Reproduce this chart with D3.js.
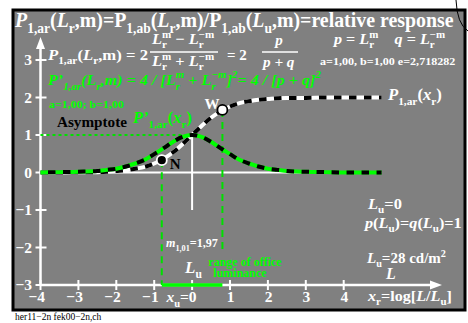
<!DOCTYPE html>
<html>
<head>
<meta charset="utf-8">
<script src="https://cdn.jsdelivr.net/npm/d3@7"></script>
<style>
  html, body { margin: 0; padding: 0; background: #fff; }
  svg { display: block; }
  text { font-family: "Liberation Serif", "DejaVu Serif", serif; font-weight: bold; }
</style>
</head>
<body>
<div id="chart"></div>
<script>
// values
var xValues = [-4, -3.5, -3, -2.5, -2.25, -2, -1.75, -1.5, -1.25, -1, -0.75, -0.5, -0.25, 0,
               0.25, 0.5, 0.75, 1, 1.25, 1.5, 1.75, 2, 2.25, 2.5, 3, 3.5, 4, 4.5, 5];
var responseValues = [0, 0, 0.01, 0.01, 0.02, 0.04, 0.06, 0.1, 0.15, 0.24, 0.37, 0.54, 0.76, 1,
                      1.24, 1.46, 1.63, 1.76, 1.85, 1.9, 1.94, 1.96, 1.98, 1.99, 1.99, 2, 2, 2, 2];
var slopeValues = [0, 0.01, 0.02, 0.04, 0.07, 0.1, 0.16, 0.24, 0.34, 0.49, 0.65, 0.82, 0.95, 1,
                   0.95, 0.82, 0.65, 0.49, 0.34, 0.24, 0.16, 0.1, 0.07, 0.04, 0.02, 0.01, 0, 0, 0];
var markerX = [-0.8, 0.8];
var markerY = [0.33, 1.67];
var markerNames = ['N', 'W'];
var xTicks = [-4, -3, -2, -1, 0, 1, 2, 3, 4];
var xTickLabels = ['\u22124', '\u22123', '\u22122', '\u22121', '|x|_{u}=0', '1', '2', '3', '4'];
var yTicks = [-3, -2, -1, 0, 1, 2, 3];
var yTickLabels = ['\u22123', '\u22122', '\u22121', '0', '1', '2', '3'];
var officeRange = [-0.8, 0.8];

var W = 468, H = 323;
var svg = d3.select('#chart').append('svg').attr('width', W).attr('height', H);

var x = d3.scaleLinear().domain([-4, 4]).range([40.5, 343.7]);
var y = d3.scaleLinear().domain([-3, 3]).range([285, 60]);

/**
 * text with |italic| and _{sub} ^{sup} markup
 */
function rich(g, px, py, str, size, fill, fitW, anchor) {
    var t = g.append('text').attr('x', px).attr('y', py)
        .attr('font-size', size).attr('fill', fill);
    if (anchor) t.attr('text-anchor', anchor);
    var shift = 0, ital = false, i = 0, buf = '', prev = null, prevSub = false;
    function flush(kind) {
        if (!buf.length) return;
        var target = kind === 'sub' ? size * 0.3 : kind === 'sup' ? -size * 0.42 : 0;
        var ts = t.append('tspan').text(buf).attr('dy', target - shift);
        shift = target;
        ts.attr('font-size', kind ? size * 0.68 : size);
        if (ital) ts.attr('font-style', 'italic');
        if (kind === 'sup' && prevSub && prev) {
            ts.attr('dx', -prev.node().getComputedTextLength());
        }
        prevSub = kind === 'sub';
        prev = ts;
        buf = '';
    }
    while (i < str.length) {
        var c = str[i];
        if (c === '|') { flush(null); ital = !ital; i++; continue; }
        if ((c === '_' || c === '^') && str[i + 1] === '{') {
            flush(null);
            var end = str.indexOf('}', i);
            var inner = str.slice(i + 2, end);
            var kind = c === '_' ? 'sub' : 'sup';
            inner.split('|').forEach(function (piece, k) {
                if (k > 0) ital = !ital;
                buf = piece; flush(kind);
            });
            i = end + 1;
            continue;
        }
        buf += c; i++;
        if (prevSub && c !== ' ') prevSub = false;
    }
    flush(null);
    if (fitW) {
        var bw = t.node().getBBox().width;
        t.attr('transform', 'translate(' + px + ',0) scale(' + (fitW / bw) + ',1) translate(' + (-px) + ',0)');
    }
    return t;
}

// frame
svg.append('rect').attr('x', 13).attr('y', 10).attr('width', 452).attr('height', 300)
    .attr('fill', '#808080').attr('stroke', '#000').attr('stroke-width', 3);

// arc top right, outside the frame
svg.append('path').attr('d', 'M456,0 Q457,24 468,31')
    .attr('fill', 'none').attr('stroke', '#000').attr('stroke-width', 1);

var g = svg.append('g');

// axes
g.append('line').attr('x1', x(-4)).attr('x2', 432).attr('y1', y(-3)).attr('y2', y(-3))
    .attr('stroke', '#fff').attr('stroke-width', 2.5);
g.append('path').attr('d', 'M442,' + y(-3) + ' l-12,-4.5 l0,9 z').attr('fill', '#fff');
g.append('line').attr('x1', x(-4)).attr('x2', x(-4)).attr('y1', y(-3)).attr('y2', 47)
    .attr('stroke', '#fff').attr('stroke-width', 2.5);
g.append('path').attr('d', 'M' + x(-4) + ',37 l-4.5,12 l9,0 z').attr('fill', '#fff');

g.selectAll('.xt').data(xTicks).enter().append('line')
    .attr('x1', function (d) { return x(d); }).attr('x2', function (d) { return x(d); })
    .attr('y1', y(-3) - 5).attr('y2', y(-3) + 5)
    .attr('stroke', '#fff').attr('stroke-width', 2);
g.selectAll('.yt').data(yTicks).enter().append('line')
    .attr('x1', x(-4) - 5).attr('x2', x(-4) + 6)
    .attr('y1', function (d) { return y(d); }).attr('y2', function (d) { return y(d); })
    .attr('stroke', '#fff').attr('stroke-width', 2);

xTicks.forEach(function (d, i) {
    rich(g, x(d) + 4.5, 302, xTickLabels[i], 15.5, '#fff', null, 'end');
});
yTicks.forEach(function (d, i) {
    rich(g, 32, y(d) + 5, yTickLabels[i], 15.5, '#fff', null, 'end');
});

// reference lines
g.append('line').attr('x1', x(-4)).attr('x2', x(5)).attr('y1', y(0)).attr('y2', y(0))
    .attr('stroke', '#fff').attr('stroke-width', 2);
g.append('line').attr('x1', x(0)).attr('x2', x(0)).attr('y1', y(1)).attr('y2', y(-1))
    .attr('stroke', '#fff').attr('stroke-width', 2);
g.append('line').attr('x1', x(-4)).attr('x2', x(0)).attr('y1', y(1)).attr('y2', y(1))
    .attr('stroke', '#00e000').attr('stroke-width', 2).attr('stroke-dasharray', '3,3');

// office range
g.append('line').attr('x1', x(officeRange[0])).attr('x2', x(officeRange[0]))
    .attr('y1', y(markerY[0])).attr('y2', y(-3))
    .attr('stroke', '#00e000').attr('stroke-width', 2).attr('stroke-dasharray', '7,5');
g.append('line').attr('x1', x(officeRange[1])).attr('x2', x(officeRange[1]))
    .attr('y1', y(markerY[1])).attr('y2', y(-2.05))
    .attr('stroke', '#00e000').attr('stroke-width', 2).attr('stroke-dasharray', '7,5');
g.append('line').attr('x1', x(officeRange[0])).attr('x2', x(officeRange[1]))
    .attr('y1', y(-3)).attr('y2', y(-3))
    .attr('stroke', '#00ff00').attr('stroke-width', 3.5);

// curves
var line = d3.line().curve(d3.curveMonotoneX)
    .x(function (d) { return x(d[0]); }).y(function (d) { return y(d[1]); });
var respPts = xValues.map(function (v, i) { return [v, responseValues[i]]; });
var slopePts = xValues.map(function (v, i) { return [v, slopeValues[i]]; });

g.append('path').attr('d', line(respPts)).attr('fill', 'none')
    .attr('stroke', '#fff').attr('stroke-width', 4);
g.append('path').attr('d', line(respPts)).attr('fill', 'none')
    .attr('stroke', '#000').attr('stroke-width', 4).attr('stroke-dasharray', '7.5,7.5');
g.append('path').attr('d', line(slopePts)).attr('fill', 'none')
    .attr('stroke', '#00ff00').attr('stroke-width', 4);
g.append('path').attr('d', line(slopePts)).attr('fill', 'none')
    .attr('stroke', '#000').attr('stroke-width', 4).attr('stroke-dasharray', '7.5,7.5')
    .attr('stroke-dashoffset', 7.5);

// markers
g.selectAll('.mk').data(markerX).enter().append('circle')
    .attr('cx', function (d) { return x(d); })
    .attr('cy', function (d, i) { return y(markerY[i]); })
    .attr('r', 5)
    .attr('fill', function (d, i) { return markerNames[i] === 'N' ? '#000' : '#fff'; })
    .attr('stroke', function (d, i) { return markerNames[i] === 'N' ? '#fff' : '#000'; })
    .attr('stroke-width', 1.8);
rich(g, x(markerX[0]) + 8, y(markerY[0]) + 9, markerNames[0], 15, '#000');
rich(g, x(markerX[1]) - 18, y(markerY[1]) - 1, markerNames[1], 15, '#fff');

// texts
rich(g, 15, 27, '|P|_{1,ar}(|L|_{r},m)=P_{1,ab}(|L|_{r},m)/P_{1,ab}(|L|_{u},m)=relative response', 20, '#fff', 440);
rich(g, 48, 60, '|P|_{1,ar}(|L|_{r},m) = 2', 15, '#fff', 100);
rich(g, 152, 44, '|L|_{r}^{m} \u2212 |L|_{r}^{\u2212m}', 15, '#fff', 64);
g.append('line').attr('x1', 150).attr('x2', 218).attr('y1', 52).attr('y2', 52)
    .attr('stroke', '#fff').attr('stroke-width', 1.5);
rich(g, 152, 66, '|L|_{r}^{m} + |L|_{r}^{\u2212m}', 15, '#fff', 64);
rich(g, 227, 60, '= 2', 15, '#fff');
rich(g, 279, 45, '|p|', 15, '#fff', null, 'middle');
g.append('line').attr('x1', 262).attr('x2', 298).attr('y1', 52).attr('y2', 52)
    .attr('stroke', '#fff').attr('stroke-width', 1.5);
rich(g, 263, 67, '|p + q|', 15, '#fff', 34);
rich(g, 334, 44, '|p| = |L|_{r}^{m}\u00a0\u00a0\u00a0\u00a0|q| = |L|_{r}^{\u2212m}', 15, '#fff', 114);
rich(g, 320, 65, 'a=1,00, b=1,00 e=2,718282', 11, '#fff', 136);
rich(g, 48, 85, '|P\u2019_{1,ar}(L_{r},m) = 4 / [L_{r}^{m} + L_{r}^{\u2212m}]^{2}= 4 / [p + q]^{2}|', 15.5, '#00ff00', 274);
rich(g, 49, 108, 'a=1,00; b=1,00', 10, '#00ff00', 75);
rich(g, 57, 127, 'Asymptote', 14, '#000', 70);
rich(g, 133, 123, '|P\u2019|_{1,ar}(|x|_{r})', 16, '#00ff00', 60);
rich(g, 388, 100, '|P|_{1,ar}(|x|_{r})', 16, '#fff', 55);

rich(g, 166, 247, '|m|_{1,01}=1,97', 12, '#fff', 52);
rich(g, 185, 273, '|L|_{u}', 17, '#fff');
rich(g, 245, 266, 'range of office', 12, '#00ff00', null, 'middle');
rich(g, 240, 277, 'luminance', 12, '#00ff00', null, 'middle');

rich(g, 368, 209, '|L|_{u}=0', 15, '#fff', 35);
rich(g, 365, 228, '|p|(|L|_{u})=|q|(|L|_{u})=1', 15, '#fff', 99);
rich(g, 367, 263, '|L|_{u}=28 cd/m^{2}', 15, '#fff', 80);
rich(g, 386, 279, '|L|', 16, '#fff');
rich(g, 368, 301, '|x|_{r}=log[|L|/|L|_{u}]', 15, '#fff', 85);

svg.append('text').attr('x', 15).attr('y', 320).attr('font-size', 9.5)
    .style('font-weight', 'normal').attr('fill', '#000')
    .text('her11\u22122n fek00\u22122n,ch');
</script>
</body>
</html>
